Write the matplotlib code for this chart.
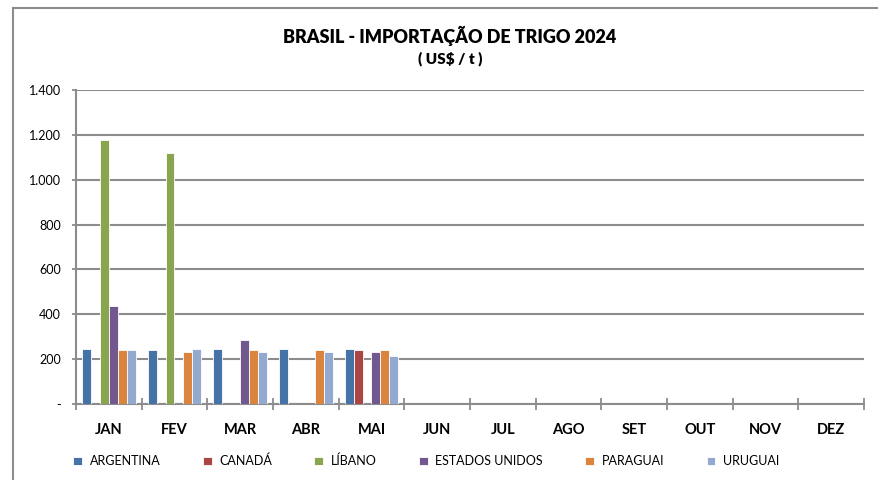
import matplotlib.pyplot as plt
import numpy as np
from matplotlib.lines import Line2D

plt.rcParams['font.family'] = ['Lato', 'DejaVu Sans']

months = ['JAN', 'FEV', 'MAR', 'ABR', 'MAI', 'JUN', 'JUL', 'AGO', 'SET', 'OUT', 'NOV', 'DEZ']
countries = ['ARGENTINA', 'CANADÁ', 'LÍBANO', 'ESTADOS UNIDOS', 'PARAGUAI', 'URUGUAI']
colors = ['#4572A7', '#AA4643', '#89A54E', '#71588F', '#DB843D', '#93A9CF']

# US$/t, None = sem importação
argentina = [246, 239, 246, 246, 246]
canada = [None, None, None, None, 239]
libano = [1176, 1121, None, None, None]
eua = [436, None, 285, None, 230]
paraguai = [239, 230, 239, 239, 239]
uruguai = [239, 246, 230, 230, 214]
series = [argentina, canada, libano, eua, paraguai, uruguai]

fig = plt.figure(figsize=(8.79, 4.8), dpi=100)
ax = fig.add_axes([76 / 879, 76 / 480, 788 / 879, 314 / 480])

w = 0.137
for k, (name, vals, c) in enumerate(zip(countries, series, colors)):
    x = np.arange(len(vals)) + 0.5 + (k - 2.5) * w
    v = np.array([np.nan if a is None else a for a in vals], dtype=float)
    ax.bar(x, v, width=w, color=c, edgecolor='white', linewidth=0.6, label=name, zorder=3)

ax.set_xlim(0, 12)
ax.set_ylim(0, 1400)
ax.set_yticks(np.arange(0, 1401, 200))
ax.set_yticklabels(['-'] + [f'{v:,}'.replace(',', '.') for v in range(200, 1401, 200)])
ax.grid(axis='y', color='#8c8c8c', linewidth=1.5, zorder=0)

ax.set_xticks(np.arange(12) + 0.5)
ax.set_xticklabels(months, fontweight='bold', fontsize=10.5)
ax.set_xticks(np.arange(13), minor=True)
ax.tick_params(axis='x', which='major', length=0, pad=14)
ax.tick_params(axis='x', which='minor', length=8, direction='inout', color='#8c8c8c', width=1.3)
ax.tick_params(axis='y', length=3, color='#8c8c8c', width=1.3, pad=8, labelsize=9)

for s in ['top', 'right']:
    ax.spines[s].set_visible(False)
for s in ['left', 'bottom']:
    ax.spines[s].set_color('#8c8c8c')
    ax.spines[s].set_linewidth(1.5)

fig.text(450 / 879, 1 - 36 / 480, 'BRASIL - IMPORTAÇÃO DE TRIGO 2024', ha='center', va='center',
         fontsize=13, fontweight='heavy')
fig.text(450 / 879, 1 - 59 / 480, '( US$ / t )', ha='center', va='center', fontsize=11, fontweight='heavy')

fig.legend(loc='center left', bbox_to_anchor=(62 / 879, 19 / 480), ncol=6, frameon=False,
           fontsize=9, handlelength=0.7, handleheight=0.7, handletextpad=0.6, columnspacing=3.4)

# moldura do gráfico
fig.add_artist(Line2D([13 / 879, 13 / 879], [0, 1 - 8 / 480], color='#8c8c8c', lw=1.5))
fig.add_artist(Line2D([13 / 879, 1], [1 - 8 / 480, 1 - 8 / 480], color='#8c8c8c', lw=1.5))

fig.savefig('out.png', dpi=100)
